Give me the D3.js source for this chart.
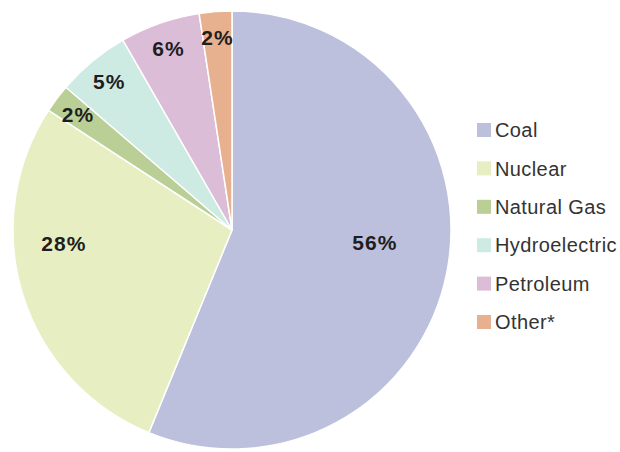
<!DOCTYPE html>
<html>
<head>
<meta charset="utf-8">
<script src="https://cdn.jsdelivr.net/npm/d3@7"></script>
<style>
  html, body { margin: 0; padding: 0; background: #fff; }
  svg { display: block; }
</style>
</head>
<body>
<svg id="chart" width="620" height="452"></svg>
<script>
// Electricity generation by source (share of total)
const categories = ["Coal", "Nuclear", "Natural Gas", "Hydroelectric", "Petroleum", "Other*"];
const shares = [0.562, 0.28, 0.021, 0.054, 0.059, 0.024];
const colors = ["#bcc0dc", "#e6eec2", "#b9cf96", "#cdeae3", "#dcbdd7", "#e7b08f"];

const width = 620, height = 452;
const cx = 232, cy = 230, radius = 219;

const svg = d3.select("#chart");
const g = svg.append("g").attr("transform", `translate(${cx},${cy})`);

const data = categories.map((c, i) => ({ name: c, value: shares[i] }));

const pie = d3.pie().value(d => d.value).sort(null);
const arcs = pie(data);
const arc = d3.arc().innerRadius(0).outerRadius(radius);

const color = d3.scaleOrdinal().domain(categories).range(colors);

g.selectAll("path.slice")
  .data(arcs)
  .join("path")
  .attr("class", "slice")
  .attr("d", arc)
  .attr("fill", d => color(d.data.name))
  .attr("stroke", "#fff")
  .attr("stroke-width", 1.5)
  .attr("stroke-linejoin", "round");

// Label placement: narrow slices get labels near the rim along the mid angle,
// the two wide slices get labels nudged toward the horizontal centre line.
const labelArcSmall = d3.arc().innerRadius(radius * 0.88).outerRadius(radius * 0.88);
function labelPos(d) {
  const mid = (d.startAngle + d.endAngle) / 2;
  if (d.endAngle - d.startAngle < Math.PI / 4) return labelArcSmall.centroid(d);
  const side = Math.sin(mid) >= 0 ? 1 : -1;
  const r = side > 0 ? radius * 0.655 : radius * 0.77;
  const a = side > 0 ? Math.PI / 2 + 0.09 : 3 * Math.PI / 2 - 0.077;
  return [r * Math.sin(a), -r * Math.cos(a)];
}

const fmt = d3.format(".0%");
g.selectAll("text.pct")
  .data(arcs)
  .join("text")
  .attr("class", "pct")
  .attr("transform", d => `translate(${labelPos(d)})`)
  .attr("text-anchor", "middle")
  .attr("dy", "0.36em")
  .attr("font-family", "Liberation Sans, Arial, sans-serif")
  .attr("font-weight", "bold")
  .attr("font-size", 21)
  .attr("letter-spacing", 1)
  .attr("fill", "#1e1e1e")
  .text(d => fmt(d.data.value));

// Legend
const legendY = d3.scalePoint().domain(categories).range([130, 322]);
const legend = svg.append("g").attr("class", "legend");
const items = legend.selectAll("g.item")
  .data(categories)
  .join("g")
  .attr("class", "item")
  .attr("transform", d => `translate(477,${legendY(d)})`);

items.append("rect")
  .attr("x", 0)
  .attr("y", -7)
  .attr("width", 14)
  .attr("height", 14)
  .attr("fill", d => color(d));

items.append("text")
  .attr("x", 18)
  .attr("dy", "0.36em")
  .attr("font-family", "Liberation Sans, Arial, sans-serif")
  .attr("font-size", 20)
  .attr("letter-spacing", 0.4)
  .attr("fill", "#333")
  .text(d => d);
</script>
</body>
</html>
